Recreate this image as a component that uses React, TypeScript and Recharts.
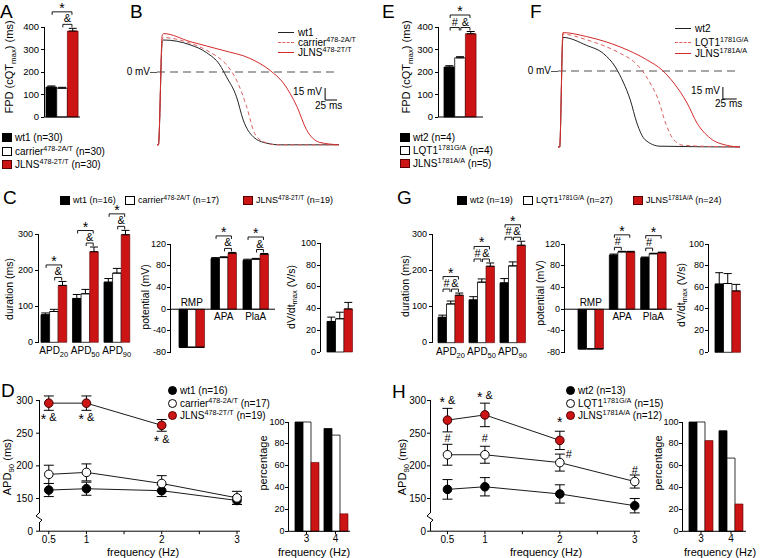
import React from "react";
import {
  Bar,
  ComposedChart,
  ErrorBar,
  LabelList,
  Line,
  LineChart,
  ReferenceLine,
  XAxis,
  YAxis,
} from "recharts";

const RED = "#cc1414";
const FONT = "'Liberation Sans', Arial, Helvetica, sans-serif";

// genotypes (left column = 478-2 family, right column = 1781 family)
const groupsLeft = [
  { name: "wt1", sup: "" },
  { name: "carrier", sup: "478-2A/T" },
  { name: "JLNS", sup: "478-2T/T" },
];
const groupsRight = [
  { name: "wt2", sup: "" },
  { name: "LQT1", sup: "1781G/A" },
  { name: "JLNS", sup: "1781A/A" },
];
const nA = [30, 30, 30];
const nE = [4, 4, 5];
const nC = [16, 17, 19];
const nG = [19, 27, 24];
const nD = [16, 17, 19];
const nH = [13, 15, 12];

// A / E : FPD (cQTmax) in ms, order wt / carrier(LQT1) / JLNS
const fpdCat = ["FPD"];
const fpdA = [133, 128, 382];
const fpdAErr = [5, 4, 12];
const fpdE = [222, 263, 370];
const fpdEErr = [6, 5, 10];

// B : action potentials (ms, mV)
const bWtT = [0, 3, 11, 14, 69, 104, 131, 145, 166, 180, 201, 229, 257, 380];
const bWtV = [-91, -91, 38, 40, 34, 24, 9, -6, -31, -60, -81, -89, -91, -91];
const bCarT = [0, 3, 11, 14, 69, 110, 145, 166, 187, 204, 222, 250, 380];
const bCarV = [-91, -91, 41, 43, 36, 25, 9, -10, -43, -77, -87, -91, -91];
const bJlT = [0, 3, 11, 14, 69, 138, 194, 236, 264, 292, 312, 340, 380];
const bJlV = [-91, -91, 46, 48, 38, 27, 17, 2, -14, -43, -72, -88, -91];

// F : action potentials (ms, mV)
const fWtT = [0, 3, 9, 52, 82, 104, 119, 131, 143, 158, 185, 330];
const fWtV = [-95, -95, 42, 32, 22, 5, -15, -36, -65, -86, -94, -95];
const fLqT = [0, 3, 9, 52, 113, 137, 152, 167, 182, 195, 210, 228, 330];
const fLqV = [-95, -95, 46, 39, 22, 12, 1, -15, -36, -65, -86, -93, -95];
const fJlT = [0, 3, 9, 52, 113, 161, 189, 210, 234, 252, 276, 307, 330];
const fJlV = [-95, -95, 48, 43, 30, 14, 1, -15, -40, -65, -84, -93, -95];

// C / G : APD, potentials, upstroke velocity
const apdCats = ["20", "50", "90"];
const potCats = ["RMP", "APA", "PlaA"];
const dvCats = ["dVdt"];

const apdC_wt = [76, 121, 166];
const apdC_wtE = [5, 11, 10];
const apdC_car = [85, 134, 191];
const apdC_carE = [6, 12, 13];
const apdC_jl = [157, 250, 297];
const apdC_jlE = [11, 13, 12];
const potC_wt = [-70, 93, 90];
const potC_wtE = [0, 2, 2];
const potC_car = [-70, 95, 92];
const potC_carE = [0, 1.5, 1.5];
const potC_jl = [-70, 103, 101];
const potC_jlE = [0, 1.5, 1.5];
const dvC = [28, 30.5, 39.5];
const dvCErr = [4, 6, 6];

const apdG_wt = [70, 118, 165];
const apdG_wtE = [6, 9, 12];
const apdG_car = [107, 167, 212];
const apdG_carE = [8, 9, 11];
const apdG_jl = [131, 211, 269];
const apdG_jlE = [6, 9, 11];
const potG_wt = [-73, 99.5, 94.5];
const potG_wtE = [0, 2, 1.5];
const potG_car = [-73, 105.5, 102];
const potG_carE = [0, 1, 1];
const potG_jl = [-73, 105.5, 104];
const potG_jlE = [0, 1, 1];
const dvG = [63, 63.5, 56.7];
const dvGErr = [10.5, 9.2, 6];

// D / H : APD90 vs pacing frequency, and percentage following pacing
const freqs = [0.5, 1, 2, 3];
const apdD_wt = [163, 165, 162, 147];
const apdD_wtE = [10, 10, 9, 6];
const apdD_car = [187, 190, 173, 151];
const apdD_carE = [14, 13, 12, 10];
const apdD_jl = [296, 296, 262, null];
const apdD_jlE = [11, 11, 9, null];
const apdH_wt = [164, 168, 157, 139];
const apdH_wtE = [15, 14, 14, 11];
const apdH_car = [217, 217, 205, 176];
const apdH_carE = [16, 13, 13, 10];
const apdH_jl = [270, 278, 239, null];
const apdH_jlE = [18, 18, 14, null];
const notesD_jl = ["* &", "* &", "* &", null];
const notesH_car = ["#", "#", "#", "#"];
const notesH_jl = ["* &", "* &", "*", null];

const pctCats = ["3", "4"];
const pctD_wt = [100, 94];
const pctD_car = [100, 88];
const pctD_jl = [63, 16];
const pctH_wt = [100, 92];
const pctH_car = [100, 67];
const pctH_jl = [83, 25];

// significance brackets: a/b = bar index in group, lv = stacking level
type Br = { a: number; b: number; s: string; lv: number };
const brWR: Br[] = [
  { a: 1, b: 2, s: "&", lv: 0 },
  { a: 0, b: 2, s: "*", lv: 1 },
];
const brAll: Br[] = [
  { a: 0, b: 1, s: "#", lv: 0 },
  { a: 1, b: 2, s: "&", lv: 0 },
  { a: 0, b: 2, s: "*", lv: 1 },
];
const brWL: Br[] = [
  { a: 0, b: 1, s: "#", lv: 0 },
  { a: 0, b: 2, s: "*", lv: 1 },
];

type Rect = { l: number; t: number; r: number; b: number };

function Mark({ x, y, s }: { x: number; y: number; s: string }) {
  const parts = s.split(" ");
  let shift = 0;
  return (
    <text x={x} y={y + 4} textAnchor="middle" fill="#000" fontSize={11}>
      {parts.map((p, i) => {
        const want = p === "*" ? 3 : 0;
        const dy = want - shift;
        shift = want;
        return (
          <tspan key={i} dy={dy} fontSize={p === "*" ? 14 : 11}>
            {(i ? "\u00a0" : "") + p}
          </tspan>
        );
      })}
    </text>
  );
}

function boxOf(props: any) {
  const vb = props.viewBox && props.viewBox.x != null ? props.viewBox : props;
  return { x: +vb.x, y: +vb.y, w: +(vb.width || 0), h: +(vb.height || 0) };
}

const ApdTick = (props: any) => {
  const { x, y, payload } = props;
  return (
    <text x={x} y={y + 8} textAnchor="middle" fontSize={10} fill="#000">
      APD
      <tspan fontSize={7.5} dy={3}>
        {payload.value}
      </tspan>
    </text>
  );
};

// ---------- html text helpers ----------
const Sub = ({ c }: { c: string }) => (
  <span style={{ fontSize: "0.72em", position: "relative", top: "0.32em" }}>{c}</span>
);
const Sup = ({ c }: { c: string }) => (
  <span style={{ fontSize: "0.72em", position: "relative", top: "-0.45em" }}>{c}</span>
);

function Txt({ x, y, s = 10, a = "l", children }: any) {
  const style: any = {
    position: "absolute",
    top: y - s / 2,
    fontSize: s,
    lineHeight: `${s}px`,
    whiteSpace: "nowrap",
    color: "#000",
  };
  if (a === "l") style.left = x;
  else if (a === "r") style.right = 760 - x;
  else {
    style.left = x;
    style.transform = "translateX(-50%)";
  }
  return <div style={style}>{children}</div>;
}

function VTxt({ x, y, s = 11, children }: any) {
  return (
    <div
      style={{
        position: "absolute",
        left: x,
        top: y,
        fontSize: s,
        lineHeight: `${s}px`,
        whiteSpace: "nowrap",
        transform: "translate(-50%, -50%) rotate(-90deg)",
      }}
    >
      {children}
    </div>
  );
}

type GBProps = {
  cats: string[];
  wt: number[];
  car: number[];
  jl: number[];
  wtE?: number[];
  carE?: number[];
  jlE?: number[];
  br?: Br[][];
  rect: Rect;
  domain: [number, number];
  ticks: number[];
  barSize: number;
  padL?: number;
  padR?: number;
  x: "sub" | "zero" | "none" | "line" | "plain";
  axisTop?: number;
  fs?: number;
  mt?: number;
  lg?: number;
};

function GroupBars(p: GBProps) {
  const mt = p.mt ?? 30;
  const mr = 4;
  const mb = 8;
  const yw = 30;
  const lg = p.lg ?? 5;
  const xh = p.x === "sub" ? 16 : p.x === "plain" ? 12 : p.x === "line" ? 1 : 0;
  const fs = p.fs ?? 9;
  const rows = p.cats.map((c, i) => ({
    c,
    v0: p.wt[i],
    v1: p.car[i],
    v2: p.jl[i],
    e0: [0, p.wtE ? p.wtE[i] : 0],
    e1: [0, p.carE ? p.carE[i] : 0],
    e2: [0, p.jlE ? p.jlE[i] : 0],
  }));
  const hasErr = !!p.wtE;
  const { rect } = p;
  const W = rect.r - rect.l + yw + mr;
  const H = rect.b - rect.t + mt + xh + mb;
  const hideX = p.x === "zero" || p.x === "none";
  // value axis drawn in page coordinates, on the same linear mapping as the chart's y range
  const pageY = (v: number) => rect.b - ((v - p.domain[0]) / (p.domain[1] - p.domain[0])) * (rect.b - rect.t);
  const axisTopY = pageY(p.axisTop ?? p.domain[1]);

  const bracketContent = (props: any) => {
    const { x, y, w, h } = boxOf(props);
    const i = props.index ?? rows.findIndex((r) => r.v2 === props.value);
    const list = p.br?.[i];
    const r = rows[i];
    if (!list || !list.length || !r || !isFinite(x)) return null;
    const vals = [r.v0, r.v1, r.v2];
    const errs = [r.e0[1], r.e1[1], r.e2[1]];
    const zero = Math.max(y, y + h);
    const ppu = Math.abs(h) / Math.abs(r.v2);
    const cx = (k: number) => x + w / 2 - (2 - k) * w;
    const hi = Math.min(...vals.map((v, k) => zero - (v + errs[k]) * ppu));
    const base = hi - 4;
    return (
      <g>
        {list.map((b, j) => {
          const ly = base - b.lv * 12.5;
          const x1 = cx(b.a) + 0.8;
          const x2 = cx(b.b) - 0.8;
          return (
            <g key={j}>
              <path d={`M${x1},${ly + 3}V${ly}H${x2}V${ly + 3}`} stroke="#000" fill="none" strokeWidth={0.9} />
              <Mark x={(x1 + x2) / 2} y={ly - 6} s={b.s} />
            </g>
          );
        })}
      </g>
    );
  };

  const zeroCat = (props: any) => {
    const { x, y, w, h } = boxOf(props);
    const i = props.index ?? rows.findIndex((r) => r.v1 === props.value);
    const r = rows[i];
    if (!r || !isFinite(x)) return null;
    const zero = r.v1 >= 0 ? Math.max(y, y + h) : Math.min(y, y + h);
    return (
      <text x={x + w / 2} y={r.v1 < 0 ? zero - 3 : zero + 11} textAnchor="middle" fontSize={10} fill="#000">
        {r.c}
      </text>
    );
  };

  return (
    <>
      <div style={{ position: "absolute", left: rect.l - yw, top: rect.t - mt, width: W, height: H }}>
        <ComposedChart
          width={W}
          height={H}
          data={rows}
          margin={{ top: mt, right: mr, left: yw, bottom: mb }}
          barGap={0}
          barSize={p.barSize}
        >
          <XAxis
            dataKey="c"
            type="category"
            hide={hideX}
            padding={{ left: p.padL ?? 0, right: p.padR ?? 0 }}
            height={xh}
            interval={0}
            axisLine={p.x === "sub" ? false : { stroke: "#000" }}
            tickLine={p.x === "plain" ? { stroke: "#000" } : false}
            tickSize={3}
            tickMargin={1}
            tick={p.x === "sub" ? <ApdTick /> : p.x === "plain" ? { fontSize: 10, fill: "#000" } : false}
          />
          <YAxis type="number" hide domain={p.domain} ticks={p.ticks} />
          <Bar dataKey="v0" fill="#000" stroke="#000" strokeWidth={0.8} isAnimationActive={false}>
            {hasErr && <ErrorBar dataKey="e0" width={4} stroke="#000" strokeWidth={1} direction="y" />}
          </Bar>
          <Bar dataKey="v1" fill="#fff" stroke="#000" strokeWidth={0.8} isAnimationActive={false}>
            {hasErr && <ErrorBar dataKey="e1" width={4} stroke="#000" strokeWidth={1} direction="y" />}
            {p.x === "zero" && <LabelList dataKey="v1" content={zeroCat} />}
          </Bar>
          <Bar dataKey="v2" fill={RED} stroke="#5a0000" strokeWidth={0.6} isAnimationActive={false}>
            {hasErr && <ErrorBar dataKey="e2" width={4} stroke="#000" strokeWidth={1} direction="y" />}
            {p.br && <LabelList dataKey="v2" content={bracketContent} />}
          </Bar>
          {p.x === "zero" && <ReferenceLine y={0} stroke="#000" strokeWidth={1} />}
        </ComposedChart>
      </div>
      <div
        style={{
          position: "absolute",
          left: rect.l - 0.5,
          top: axisTopY,
          width: 1,
          height: rect.b - axisTopY,
          background: "#000",
        }}
      />
      {p.ticks.map((t) => (
        <React.Fragment key={t}>
          <div
            style={{
              position: "absolute",
              left: rect.l - 3.5,
              top: pageY(t) - 0.5,
              width: 3,
              height: 1,
              background: "#000",
            }}
          />
          <Txt x={rect.l - lg} y={pageY(t)} s={fs} a="r">
            {String(t)}
          </Txt>
        </React.Fragment>
      ))}
    </>
  );
}

type Trace = { t: number[]; v: number[]; color: string; dashed?: boolean };

function Traces({ rect, tMax, traces, barT }: { rect: Rect; tMax: number; traces: Trace[]; barT: number }) {
  return (
    <div style={{ position: "absolute", left: rect.l, top: rect.t }}>
      <LineChart width={rect.r - rect.l} height={rect.b - rect.t} margin={{ top: 0, right: 0, left: 0, bottom: 0 }}>
        <XAxis type="number" dataKey="t" domain={[0, tMax]} hide />
        <YAxis type="number" domain={[-95, 55]} hide />
        <ReferenceLine y={0} stroke="#8a8a8a" strokeDasharray="8 5" strokeWidth={1.4} />
        {traces.map((tr, k) => (
          <Line
            key={k}
            data={tr.t.map((t, i) => ({ t, v: tr.v[i] }))}
            dataKey="v"
            type="monotone"
            stroke={tr.color}
            strokeWidth={1}
            strokeDasharray={tr.dashed ? "4 3" : undefined}
            dot={false}
            activeDot={false}
            isAnimationActive={false}
          />
        ))}
        <ReferenceLine segment={[{ x: barT, y: -35 }, { x: barT, y: -20 }]} stroke="#000" strokeWidth={1} />
        <ReferenceLine segment={[{ x: barT, y: -35 }, { x: barT + 25, y: -35 }]} stroke="#000" strokeWidth={1} />
      </LineChart>
    </div>
  );
}

type Note = { text: (string | null)[]; modes: string[] };

function FreqLines(p: {
  rect: Rect;
  xDomain: [number, number];
  wt: (number | null)[];
  wtE: (number | null)[];
  car: (number | null)[];
  carE: (number | null)[];
  jl: (number | null)[];
  jlE: (number | null)[];
  notes: (Note | null)[];
  tm: number;
}) {
  const mt = 8;
  const mr = 4;
  const yw = 30;
  const xh = 14;
  const { rect } = p;
  const rows = freqs.map((f, i) => ({
    f,
    s0: p.wt[i],
    e0: p.wtE[i],
    s1: p.car[i],
    e1: p.carE[i],
    s2: p.jl[i],
    e2: p.jlE[i],
  }));
  const domain: [number, number] = [100, 310];
  const axisTopY = rect.b - ((300 - domain[0]) / (domain[1] - domain[0])) * (rect.b - rect.t);
  const breakY = rect.b - ((120 - domain[0]) / (domain[1] - domain[0])) * (rect.b - rect.t);
  const fills = ["#000", "#fff", RED];
  const strokes = ["#000", "#000", "#3a0000"];

  const noteContent = (note: Note) => (props: any) => {
    const i = props.index;
    const txt = note.text[i];
    if (!txt) return null;
    const { x, y } = boxOf(props);
    const m = note.modes[i];
    let cx = x;
    let cy = y;
    if (m === "d") cy = y + 14;
    else if (m === "u") cy = y - 17;
    else if (m === "U") cy = y - 20;
    else if (m === "s") cy = y - 12;
    else if (m === "r") {
      cx = x + 9;
      cy = y - 9;
    }
    return <Mark x={cx} y={cy} s={txt} />;
  };

  return (
    <div style={{ position: "absolute", left: rect.l - yw, top: rect.t - mt }}>
      <LineChart
        width={rect.r - rect.l + yw + mr}
        height={rect.b - rect.t + mt + xh}
        data={rows}
        margin={{ top: mt, right: mr, left: 0, bottom: 0 }}
      >
        <XAxis
          type="number"
          dataKey="f"
          domain={p.xDomain}
          ticks={[0.5, 1, 1.5, 2, 2.5, 3]}
          interval={0}
          tickFormatter={(v: number) => (v === 1.5 || v === 2.5 ? "" : String(v))}
          height={xh}
          tick={{ fontSize: 10, fill: "#000" }}
          tickSize={3}
          tickMargin={2}
          axisLine={{ stroke: "#000" }}
          tickLine={{ stroke: "#000" }}
        />
        <YAxis
          type="number"
          width={yw}
          domain={domain}
          ticks={[100, 150, 200, 250, 300]}
          interval={0}
          tickFormatter={(v: number) => (v === 100 ? "0" : String(v))}
          tick={{ fontSize: 10, fill: "#000" }}
          tickSize={3}
          tickMargin={p.tm}
          tickLine={{ stroke: "#000" }}
          axisLine={false}
        />
        {[0, 1, 2].map((k) => (
          <Line
            key={k}
            dataKey={`s${k}`}
            type="linear"
            stroke="#000"
            strokeWidth={0.9}
            dot={{ r: 4.3, fill: fills[k], stroke: strokes[k], strokeWidth: 1 }}
            activeDot={false}
            isAnimationActive={false}
          >
            <ErrorBar dataKey={`e${k}`} width={5} stroke="#000" strokeWidth={1} direction="y" />
            {p.notes[k] && <LabelList dataKey={`s${k}`} content={noteContent(p.notes[k] as Note)} />}
          </Line>
        ))}
      </LineChart>
      <div
        style={{
          position: "absolute",
          left: yw - 0.5,
          top: axisTopY - (rect.t - mt),
          width: 1,
          height: rect.b - axisTopY,
          background: "#000",
        }}
      />
      <svg
        style={{ position: "absolute", left: yw - 6, top: breakY - (rect.t - mt) - 7 }}
        width={12}
        height={14}
      >
        <rect x={3} y={2} width={6} height={10} fill="#fff" />
        <polyline points="6,2 3,5 9,9 6,12" fill="none" stroke="#000" strokeWidth={1} />
      </svg>
    </div>
  );
}

function Geno({ g, n }: { g: { name: string; sup: string }; n?: number }) {
  return (
    <span>
      {g.name}
      {g.sup ? <Sup c={g.sup} /> : null}
      {n != null ? ` (n=${n})` : null}
    </span>
  );
}

const swatchFill = ["#000", "#fff", RED];

function Swatch({ k, kind }: { k: number; kind: "sq" | "dot" | "line" }) {
  if (kind === "line") {
    const color = k === 0 ? "#222" : k === 1 ? "#e06060" : "#d42a2a";
    return (
      <span
        style={{
          display: "inline-block",
          width: 16,
          borderTop: `1.3px ${k === 1 ? "dashed" : "solid"} ${color}`,
          marginRight: 4,
        }}
      />
    );
  }
  return (
    <span
      style={{
        display: "inline-block",
        width: kind === "dot" ? 9 : 10,
        height: 9,
        borderRadius: kind === "dot" ? "50%" : 0,
        background: swatchFill[k],
        border: `1px solid ${k === 2 ? "#5a0000" : "#000"}`,
        boxSizing: "border-box",
        marginRight: 3,
      }}
    />
  );
}

function LegendRow({ x, y, k, kind, g, n, s = 10 }: any) {
  return (
    <div
      style={{
        position: "absolute",
        left: x,
        top: y - 7,
        height: 14,
        display: "flex",
        alignItems: "center",
        fontSize: s,
        whiteSpace: "nowrap",
      }}
    >
      <Swatch k={k} kind={kind} />
      <Geno g={g} n={n} />
    </div>
  );
}

function Letter({ x, y, c }: { x: number; y: number; c: string }) {
  return (
    <div style={{ position: "absolute", left: x, top: y, fontSize: 19, lineHeight: "19px" }}>{c}</div>
  );
}

export default function App() {
  const potTicks = [-80, -40, 0, 40, 80, 120];
  const dvTicks = [0, 20, 40, 60, 80, 100];
  const pctTicks = [0, 20, 40, 60, 80, 100];
  return (
    <div
      style={{
        position: "absolute",
        left: 0,
        top: 0,
        width: 760,
        height: 558,
        background: "#fff",
        overflow: "hidden",
        fontFamily: FONT,
        color: "#000",
      }}
    >
      <style>{".recharts-surface{overflow:visible}"}</style>
      {/* ---------- A ---------- */}
      <Letter x={0} y={1.5} c="A" />
      <GroupBars
        cats={fpdCat}
        wt={[fpdA[0]]}
        car={[fpdA[1]]}
        jl={[fpdA[2]]}
        wtE={[fpdAErr[0]]}
        carE={[fpdAErr[1]]}
        jlE={[fpdAErr[2]]}
        br={[brWR]}
        rect={{ l: 44, t: 27, r: 80, b: 117 }}
        domain={[0, 400]}
        ticks={[0, 100, 200, 300, 400]}
        barSize={10.7}
        x="line"
        fs={9.5}
        mt={26}
      />
      <VTxt x={10} y={67}>
        FPD (cQT<Sub c="max" />) (ms)
      </VTxt>
      {groupsLeft.map((g, k) => (
        <LegendRow key={k} x={2} y={[137, 151, 164][k]} k={k} kind="sq" g={g} n={nA[k]} />
      ))}

      {/* ---------- B ---------- */}
      <Letter x={130} y={1.5} c="B" />
      <Traces
        rect={{ l: 157, t: 28, r: 339, b: 148 }}
        tMax={380}
        barT={351}
        traces={[
          { t: bWtT, v: bWtV, color: "#222" },
          { t: bCarT, v: bCarV, color: "#e06060", dashed: true },
          { t: bJlT, v: bJlV, color: "#d42a2a" },
        ]}
      />
      <Txt x={150} y={72} a="r">
        0 mV
      </Txt>
      <div style={{ position: "absolute", left: 150, top: 71.5, width: 7, height: 1, background: "#555" }} />
      <Txt x={322} y={92} a="r">
        15 mV
      </Txt>
      <Txt x={315} y={106}>
        25 ms
      </Txt>
      {groupsLeft.map((g, k) => (
        <LegendRow key={k} x={278} y={[32, 42, 52][k]} k={k} kind="line" g={g} />
      ))}

      {/* ---------- E ---------- */}
      <Letter x={382} y={1.5} c="E" />
      <GroupBars
        cats={fpdCat}
        wt={[fpdE[0]]}
        car={[fpdE[1]]}
        jl={[fpdE[2]]}
        wtE={[fpdEErr[0]]}
        carE={[fpdEErr[1]]}
        jlE={[fpdEErr[2]]}
        br={[brAll]}
        rect={{ l: 438, t: 27, r: 483, b: 117 }}
        domain={[0, 400]}
        ticks={[0, 100, 200, 300, 400]}
        barSize={10.7}
        x="line"
        fs={9.5}
        mt={26}
      />
      <VTxt x={407} y={67}>
        FPD (cQT<Sub c="max" />) (ms)
      </VTxt>
      {groupsRight.map((g, k) => (
        <LegendRow key={k} x={400} y={[137, 150, 163][k]} k={k} kind="sq" g={g} n={nE[k]} />
      ))}

      {/* ---------- F ---------- */}
      <Letter x={530} y={1.5} c="F" />
      <Traces
        rect={{ l: 558, t: 27, r: 740, b: 147 }}
        tMax={330}
        barT={299}
        traces={[
          { t: fWtT, v: fWtV, color: "#222" },
          { t: fLqT, v: fLqV, color: "#e06060", dashed: true },
          { t: fJlT, v: fJlV, color: "#d42a2a" },
        ]}
      />
      <Txt x={551} y={71} a="r">
        0 mV
      </Txt>
      <div style={{ position: "absolute", left: 551, top: 70.5, width: 7, height: 1, background: "#555" }} />
      <Txt x={720} y={91} a="r">
        15 mV
      </Txt>
      <Txt x={715} y={104}>
        25 ms
      </Txt>
      {groupsRight.map((g, k) => (
        <LegendRow key={k} x={675} y={[28, 42, 53][k]} k={k} kind="line" g={g} />
      ))}

      {/* ---------- C ---------- */}
      <Letter x={3} y={187.5} c="C" />
      {groupsLeft.map((g, k) => (
        <LegendRow key={k} x={[60, 125, 243][k]} y={200} k={k} kind="sq" g={g} n={nC[k]} s={9} />
      ))}
      <GroupBars
        cats={apdCats}
        wt={apdC_wt}
        car={apdC_car}
        jl={apdC_jl}
        wtE={apdC_wtE}
        carE={apdC_carE}
        jlE={apdC_jlE}
        br={[brWR, brWR, brWR]}
        rect={{ l: 38, t: 230.4, r: 132.5, b: 342.7 }}
        domain={[0, 310]}
        ticks={[0, 100, 200, 300]}
        barSize={8.6}
        x="sub"
        axisTop={300}
      />
      <VTxt x={9} y={289} s={10.5}>
        duration (ms)
      </VTxt>
      <GroupBars
        cats={potCats}
        wt={potC_wt}
        car={potC_car}
        jl={potC_jl}
        wtE={potC_wtE}
        carE={potC_carE}
        jlE={potC_jlE}
        br={[[], brWR, brWR]}
        rect={{ l: 170, t: 244, r: 275, b: 352.7 }}
        domain={[-80, 120]}
        ticks={potTicks}
        barSize={8.5}
        padL={6}
        padR={3}
        x="zero"
        lg={4}
      />
      <VTxt x={145} y={297} s={10.5}>
        potential (mV)
      </VTxt>
      <GroupBars
        cats={dvCats}
        wt={[dvC[0]]}
        car={[dvC[1]]}
        jl={[dvC[2]]}
        wtE={[dvCErr[0]]}
        carE={[dvCErr[1]]}
        jlE={[dvCErr[2]]}
        rect={{ l: 320, t: 243.3, r: 356, b: 352.3 }}
        domain={[0, 100]}
        ticks={dvTicks}
        barSize={8.5}
        padL={3}
        x="none"
        lg={4}
      />
      <VTxt x={292} y={297} s={10.5}>
        dV/dt<Sub c="max" /> (V/s)
      </VTxt>

      {/* ---------- G ---------- */}
      <Letter x={397} y={187.5} c="G" />
      {groupsRight.map((g, k) => (
        <LegendRow key={k} x={[457, 523, 633][k]} y={200} k={k} kind="sq" g={g} n={nG[k]} s={9} />
      ))}
      <GroupBars
        cats={apdCats}
        wt={apdG_wt}
        car={apdG_car}
        jl={apdG_jl}
        wtE={apdG_wtE}
        carE={apdG_carE}
        jlE={apdG_jlE}
        br={[brAll, brAll, brAll]}
        rect={{ l: 432, t: 234, r: 528, b: 342.7 }}
        domain={[0, 300]}
        ticks={[0, 100, 200, 300]}
        barSize={8.5}
        padL={3}
        x="sub"
      />
      <VTxt x={405} y={286} s={10.5}>
        duration (ms)
      </VTxt>
      <GroupBars
        cats={potCats}
        wt={potG_wt}
        car={potG_car}
        jl={potG_jl}
        wtE={potG_wtE}
        carE={potG_carE}
        jlE={potG_jlE}
        br={[[], brWL, brWL]}
        rect={{ l: 564, t: 244, r: 672, b: 352.7 }}
        domain={[-80, 120]}
        ticks={potTicks}
        barSize={8.5}
        padL={11}
        padR={3}
        x="zero"
        lg={4}
      />
      <VTxt x={540} y={293} s={10.5}>
        potential (mV)
      </VTxt>
      <GroupBars
        cats={dvCats}
        wt={[dvG[0]]}
        car={[dvG[1]]}
        jl={[dvG[2]]}
        wtE={[dvGErr[0]]}
        carE={[dvGErr[1]]}
        jlE={[dvGErr[2]]}
        rect={{ l: 708, t: 244, r: 744, b: 352.3 }}
        domain={[0, 100]}
        ticks={dvTicks}
        barSize={8.5}
        padL={4}
        x="none"
        lg={4}
      />
      <VTxt x={682} y={295} s={10.5}>
        dV/dt<Sub c="max" /> (V/s)
      </VTxt>

      {/* ---------- D ---------- */}
      <Letter x={1} y={381} c="D" />
      {groupsLeft.map((g, k) => (
        <LegendRow key={k} x={168} y={[390, 403, 415][k]} k={k} kind="dot" g={g} n={nD[k]} />
      ))}
      <FreqLines
        rect={{ l: 39, t: 393.5, r: 240, b: 530.7 }}
        xDomain={[0.37, 3.04]}
        wt={apdD_wt}
        wtE={apdD_wtE}
        car={apdD_car}
        carE={apdD_carE}
        jl={apdD_jl}
        jlE={apdD_jlE}
        tm={3}
        notes={[null, null, { text: notesD_jl, modes: ["d", "d", "d", "d"] }]}
      />
      <VTxt x={8} y={467}>
        APD<Sub c="90" /> (ms)
      </VTxt>
      <Txt x={143} y={552} s={11} a="c">
        frequency (Hz)
      </Txt>
      <GroupBars
        cats={pctCats}
        wt={pctD_wt}
        car={pctD_car}
        jl={pctD_jl}
        rect={{ l: 288, t: 422, r: 350, b: 531.3 }}
        domain={[0, 100]}
        ticks={pctTicks}
        barSize={8}
        padL={4}
        x="plain"
        fs={9}
        mt={8}
        lg={3.5}
      />
      <VTxt x={263} y={463}>
        percentage
      </VTxt>
      <Txt x={314} y={552} s={11} a="c">
        frequency (Hz)
      </Txt>

      {/* ---------- H ---------- */}
      <Letter x={392} y={382} c="H" />
      {groupsRight.map((g, k) => (
        <LegendRow key={k} x={566} y={[390, 403, 415][k]} k={k} kind="dot" g={g} n={nH[k]} />
      ))}
      <FreqLines
        rect={{ l: 430, t: 393.5, r: 640, b: 530.7 }}
        xDomain={[0.267, 3.07]}
        wt={apdH_wt}
        wtE={apdH_wtE}
        car={apdH_car}
        carE={apdH_carE}
        jl={apdH_jl}
        jlE={apdH_jlE}
        tm={1}
        notes={[
          null,
          { text: notesH_car, modes: ["u", "u", "r", "s"] },
          { text: notesH_jl, modes: ["U", "U", "U", "U"] },
        ]}
      />
      <VTxt x={403} y={467}>
        APD<Sub c="90" /> (ms)
      </VTxt>
      <Txt x={546} y={552} s={11} a="c">
        frequency (Hz)
      </Txt>
      <GroupBars
        cats={pctCats}
        wt={pctH_wt}
        car={pctH_car}
        jl={pctH_jl}
        rect={{ l: 682, t: 422, r: 746, b: 531.3 }}
        domain={[0, 100]}
        ticks={pctTicks}
        barSize={8}
        padL={4}
        x="plain"
        fs={9}
        mt={8}
        lg={3.5}
      />
      <VTxt x={658} y={463}>
        percentage
      </VTxt>
      <Txt x={720} y={552} s={11} a="c">
        frequency (Hz)
      </Txt>
    </div>
  );
}
